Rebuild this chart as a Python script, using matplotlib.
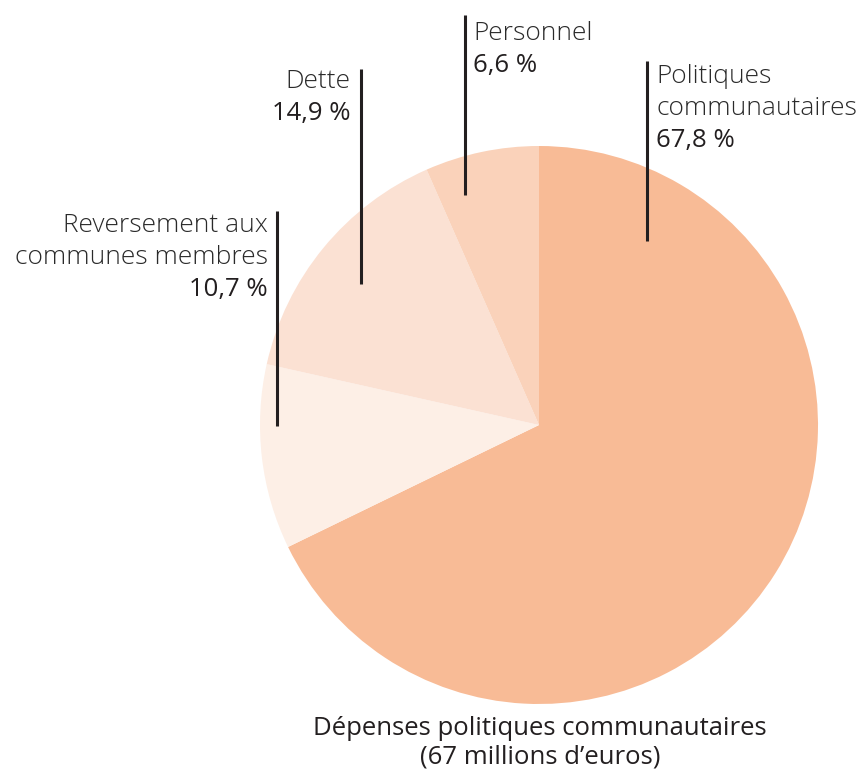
import matplotlib.pyplot as plt

# slices, clockwise from 12 o'clock
labels = ["Politiques\ncommunautaires", "Reversement aux\ncommunes membres", "Dette", "Personnel"]
values = [67.8, 10.7, 14.9, 6.6]
pct_text = ["67,8 %", "10,7 %", "14,9 %", "6,6 %"]
colors = ["#F8BB96", "#FDEFE6", "#FBE1D3", "#FAD2BA"]
title = "Dépenses politiques communautaires\n(67 millions d\u2019euros)"

W, H = 861, 772
fig = plt.figure(figsize=(W / 100, H / 100), dpi=100)
ax = fig.add_axes([0, 0, 1, 1])

ax.pie(values, colors=colors, startangle=90, counterclock=False,
       center=(539, H - 425), radius=279, frame=True,
       wedgeprops=dict(linewidth=0))
ax.set_xlim(0, W)
ax.set_ylim(0, H)
ax.set_aspect("equal")
ax.axis("off")

font = "Open Sans"
dark = "#231F20"

# label layout: (x line, y top, y bottom, text x, first baseline, align)
layout = [
    (647, 61, 241, 656, 83, "left"),
    (277, 211, 426, 268, 232, "right"),
    (361, 69, 284, 350, 88, "right"),
    (465, 15, 195, 473, 40, "left"),
]
step = 32
for lab, pct, (lx, y0, y1, tx, yb, ha) in zip(labels, pct_text, layout):
    ax.plot([lx, lx], [H - y0, H - y1], color=dark, lw=2.2, solid_capstyle="butt")
    lines = lab.split("\n")
    for i, line in enumerate(lines):
        ax.text(tx, H - (yb + i * step), line, ha=ha, va="baseline",
                fontsize=19, family=font, weight="light", color="#2a2a2a")
    ax.text(tx, H - (yb + len(lines) * step), pct, ha=ha, va="baseline",
            fontsize=18.5, family=font, weight="normal", color=dark)

for i, line in enumerate(title.split("\n")):
    ax.text(540, H - (735 + i * 28), line, ha="center", va="baseline",
            fontsize=18.5, family=font, weight="normal", color=dark)

fig.savefig("out.png", dpi=100)
